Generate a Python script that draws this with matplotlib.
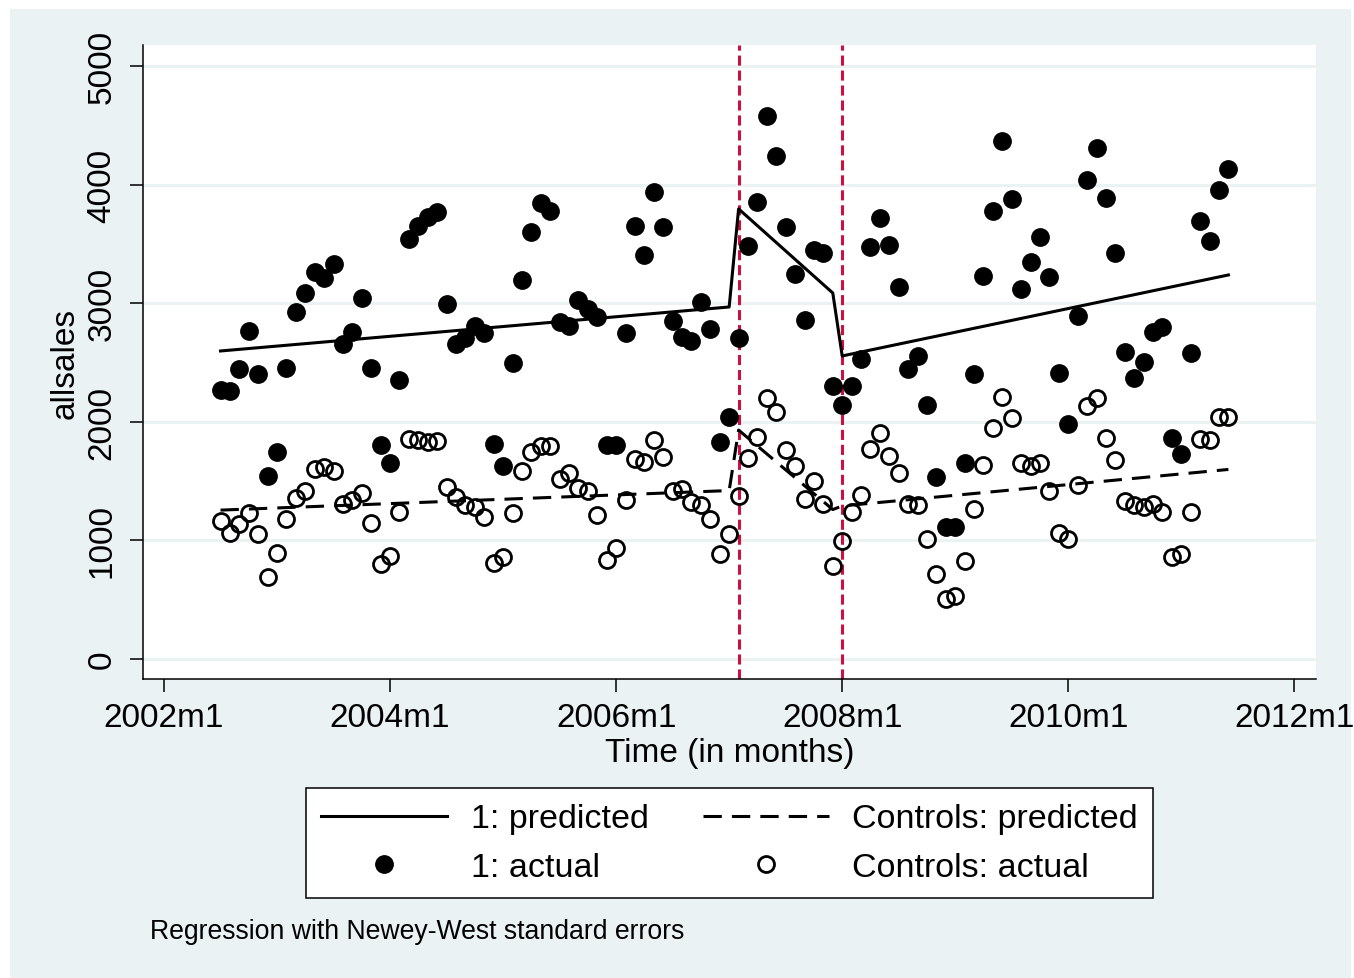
import pandas as pd
import matplotlib.pyplot as plt
from matplotlib.patches import Rectangle

plt.rcParams['font.family'] = ['Liberation Sans', 'DejaVu Sans']

# monthly observations, 2002m7 .. 2011m6
first_month = '2002-07'
last_month = '2011-06'

treated_actual = [
    2270, 2260, 2445, 2765, 2400, 1545, 1745, 2455, 2925, 3085, 3265, 3210,
    3330, 2655, 2757, 3045, 2455, 1805, 1650, 2350, 3540, 3650, 3725, 3770,
    2990, 2655, 2705, 2810, 2750, 1810, 1625, 2495, 3195, 3600, 3845, 3775,
    2840, 2810, 3030, 2950, 2885, 1805, 1805, 2750, 3650, 3405, 3940, 3640,
    2850, 2715, 2680, 3010, 2780, 1830, 2040, 2705, 3480, 3855, 4580, 4240,
    3645, 3245, 2860, 3450, 3425, 2300, 2140, 2300, 2530, 3475, 3720, 3490,
    3135, 2445, 2555, 2140, 1535, 1115, 1115, 1650, 2400, 3230, 3780, 4370,
    3880, 3120, 3345, 3560, 3220, 2410, 1980, 2890, 4040, 4310, 3890, 3425,
    2590, 2370, 2505, 2755, 2800, 1865, 1730, 2580, 3695, 3525, 3955, 4130,
]

controls_actual = [
    1165, 1060, 1140, 1230, 1055, 690, 895, 1180, 1360, 1415, 1600, 1620,
    1585, 1305, 1340, 1400, 1145, 800, 870, 1240, 1855, 1845, 1830, 1840,
    1450, 1365, 1300, 1280, 1195, 810, 860, 1230, 1585, 1745, 1795, 1795,
    1520, 1570, 1440, 1415, 1215, 835, 935, 1340, 1685, 1660, 1845, 1705,
    1415, 1435, 1325, 1300, 1180, 885, 1055, 1375, 1695, 1870, 2200, 2085,
    1760, 1630, 1350, 1500, 1305, 785, 995, 1240, 1385, 1770, 1905, 1710,
    1570, 1305, 1300, 1010, 715, 505, 530, 825, 1265, 1635, 1945, 2210,
    2030, 1650, 1625, 1650, 1415, 1060, 1010, 1465, 2130, 2200, 1865, 1680,
    1330, 1300, 1280, 1305, 1240, 860, 885, 1240, 1855, 1845, 2040, 2040,
]

# fitted (piecewise linear) predictions at segment ends
pred_months = ['2002-07', '2007-01', '2007-02', '2007-12', '2008-01', '2011-06']
treated_pred = [2597, 2968, 3795, 3086, 2555, 3238]
controls_pred = [1255, 1420, 1930, 1260, 1290, 1598]

break_months = ['2007-02', '2008-01']
tick_years = [2002, 2004, 2006, 2008, 2010, 2012]


def month_num(p):
    # months since 2002m1
    p = pd.Period(p, freq='M')
    return (p.year - 2002) * 12 + p.month - 1


months = [month_num(p) for p in pd.period_range(first_month, last_month, freq='M')]
pm = [month_num(p) for p in pred_months]

bg = '#EAF2F3'
fs = 24
fig = plt.figure(figsize=(13.54, 9.79), dpi=100)
fig.patch.set_facecolor('white')
fig.add_artist(Rectangle((10 / 1354, 0), 1341 / 1354, 969 / 979,
                         transform=fig.transFigure, facecolor=bg,
                         edgecolor='none', zorder=-10))

ax = fig.add_axes([143 / 1354, 1 - 680 / 979, 1173 / 1354, 634 / 979])
ax.set_facecolor('white')

for v in range(0, 5001, 1000):
    ax.axhline(v, color=bg, lw=2.2, zorder=0)

for b in break_months:
    ax.axvline(month_num(b), color='#CC1040', lw=2.2,
               linestyle=(0, (3.3, 1.6)), zorder=1)

l1, = ax.plot(pm, treated_pred, color='black', lw=2.2, zorder=3)
l2, = ax.plot(pm, controls_pred, color='black', lw=2.2,
              linestyle=(0, (6, 3.3)), zorder=3)
m1, = ax.plot(months, treated_actual, 'o', color='black', ms=12.5,
              linestyle='none', zorder=4)
m2, = ax.plot(months, controls_actual, 'o', markerfacecolor='none',
              markeredgecolor='black', mew=2, ms=11.5, linestyle='none', zorder=4)

ax.set_xlim(-2.23, 122.3)
ax.set_ylim(-169, 5177)
ax.set_xticks([(y - 2002) * 12 for y in tick_years])
ax.set_xticklabels([f'{y}m1' for y in tick_years])
ax.set_yticks(range(0, 5001, 1000))
ax.set_yticklabels([str(v) for v in range(0, 5001, 1000)],
                   rotation=90, va='center')
ax.tick_params(axis='both', direction='out', length=9.5, width=1.1,
               labelsize=fs, colors='black')
ax.tick_params(axis='x', pad=7)
ax.tick_params(axis='y', pad=9)

for s in ['top', 'right']:
    ax.spines[s].set_visible(False)
for s in ['left', 'bottom']:
    ax.spines[s].set_linewidth(1.1)

ax.set_xlabel('Time (in months)', fontsize=fs, labelpad=3)
ax.set_ylabel('allsales', fontsize=fs, labelpad=4)

leg = fig.legend([l1, m1, l2, m2],
                 ['1: predicted', '1: actual',
                  'Controls: predicted', 'Controls: actual'],
                 ncol=2, loc='center', bbox_to_anchor=(729.5 / 1354, 1 - 844 / 979),
                 fontsize=24.5, frameon=True, fancybox=False,
                 edgecolor='black', facecolor='white', framealpha=1,
                 handlelength=3.7, handletextpad=0.68, columnspacing=1.6,
                 labelspacing=0.5, borderpad=0.45)
leg.get_frame().set_linewidth(1.1)

fig.text(150 / 1354, 1 - 932 / 979, 'Regression with Newey-West standard errors',
         fontsize=19.2, ha='left', va='center')

fig.savefig('out.png', dpi=100)
